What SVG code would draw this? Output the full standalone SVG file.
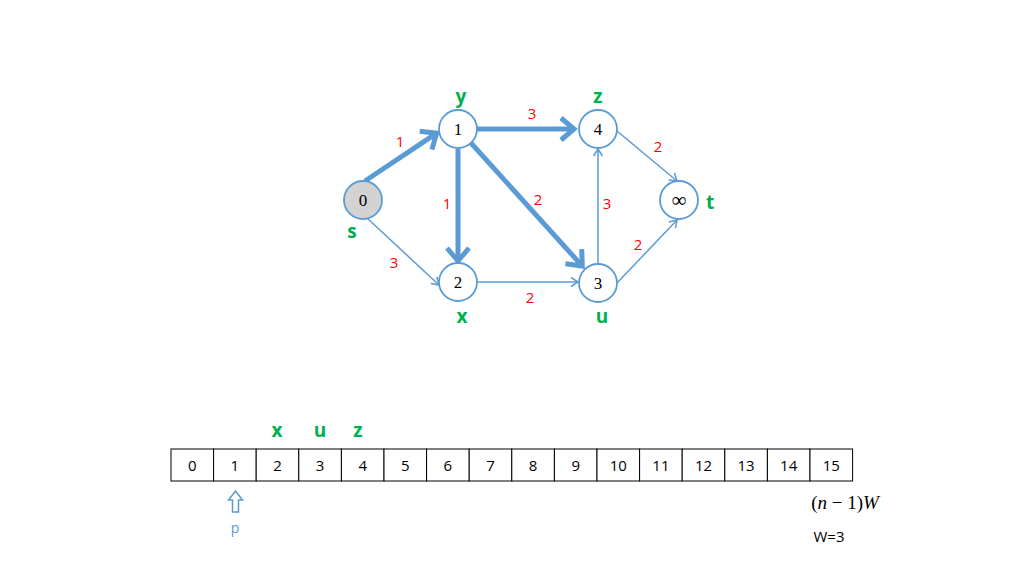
<svg xmlns="http://www.w3.org/2000/svg" width="1024" height="576" viewBox="0 0 1024 576">
<style>
.node{fill:#fff;stroke:#5B9BD5;stroke-width:1.8}
.src{fill:#D3D3D3}
.num{font-family:"Liberation Serif",serif;font-size:17px;fill:#000;text-anchor:middle;dominant-baseline:central}
.nm{font-family:"Open Sans","Liberation Sans",sans-serif;font-weight:bold;font-size:19px;fill:#00B050;text-anchor:middle}
.w{font-family:"Open Sans","Liberation Sans",sans-serif;font-size:15px;fill:#FF0000;text-anchor:middle}
.thick{stroke:#5B9BD5;stroke-width:5;fill:none;marker-end:url(#ahT)}
.thin{stroke:#5B9BD5;stroke-width:1.5;fill:none;marker-end:url(#ah)}
.cell{fill:#fff;stroke:#000;stroke-width:1}
.ct{font-family:"Open Sans","Liberation Sans",sans-serif;font-size:15px;fill:#000;text-anchor:middle}
</style>
<defs>
<marker id="ahT" viewBox="0 0 30 30" markerWidth="30" markerHeight="30" refX="11" refY="15" orient="auto" markerUnits="userSpaceOnUse">
<path d="M2,4 L15,15 L2,26" fill="none" stroke="#5B9BD5" stroke-width="5"/>
</marker>
<marker id="ah" viewBox="0 0 20 20" markerWidth="20" markerHeight="20" refX="10" refY="10" orient="auto" markerUnits="userSpaceOnUse">
<path d="M3,5.5 L10,10 L3,14.5" fill="none" stroke="#5B9BD5" stroke-width="1.5"/>
</marker>
</defs>
<rect width="1024" height="576" fill="#fff"/>
<g id="connectors">
<line class="thick" x1="365" y1="181" x2="433.3" y2="135.4"/>
<line class="thick" x1="477" y1="129" x2="570" y2="129"/>
<line class="thick" x1="458" y1="149" x2="458" y2="257"/>
<line class="thick" x1="471" y1="143" x2="579.6" y2="263.1"/>
<line class="thin" x1="367" y1="218" x2="439" y2="285"/>
<line class="thin" x1="477" y1="282" x2="578" y2="282"/>
<line class="thin" x1="598" y1="264" x2="598" y2="149"/>
<line class="thin" x1="617" y1="131" x2="677" y2="181"/>
<line class="thin" x1="617" y1="283" x2="677" y2="220"/>
<text class="w" x="400" y="147">1</text>
<text class="w" x="532" y="119">3</text>
<text class="w" x="658" y="152">2</text>
<text class="w" x="447" y="209">1</text>
<text class="w" x="538" y="205">2</text>
<text class="w" x="607" y="209">3</text>
<text class="w" x="638" y="250">2</text>
<text class="w" x="394" y="268">3</text>
<text class="w" x="530" y="303">2</text>
</g>
<g id="node-s">
<circle class="node src" cx="363" cy="200" r="19"/>
<text class="num" x="363" y="200">0</text>
<text class="nm" x="352" y="238">s</text>
</g>
<g id="node-y">
<circle class="node" cx="458" cy="129" r="19"/>
<text class="num" x="458" y="129">1</text>
<text class="nm" x="461" y="103">y</text>
</g>
<g id="node-z">
<circle class="node" cx="598" cy="129" r="19"/>
<text class="num" x="598" y="129">4</text>
<text class="nm" x="598" y="103">z</text>
</g>
<g id="node-t">
<circle class="node" cx="679" cy="200" r="19"/>
<text class="num" x="679" y="200" style="font-size:21px">∞</text>
<text class="nm" x="710" y="209">t</text>
</g>
<g id="node-x">
<circle class="node" cx="458" cy="282" r="19"/>
<text class="num" x="458" y="282">2</text>
<text class="nm" x="462" y="323">x</text>
</g>
<g id="node-u">
<circle class="node" cx="598" cy="283" r="19"/>
<text class="num" x="598" y="283">3</text>
<text class="nm" x="602" y="323">u</text>
</g>
<g id="buckets">
<rect class="cell" x="171" y="449" width="42.6" height="32"/>
<rect class="cell" x="213.6" y="449" width="42.6" height="32"/>
<rect class="cell" x="256.2" y="449" width="42.6" height="32"/>
<rect class="cell" x="298.8" y="449" width="42.6" height="32"/>
<rect class="cell" x="341.4" y="449" width="42.6" height="32"/>
<rect class="cell" x="384" y="449" width="42.6" height="32"/>
<rect class="cell" x="426.6" y="449" width="42.6" height="32"/>
<rect class="cell" x="469.2" y="449" width="42.6" height="32"/>
<rect class="cell" x="511.8" y="449" width="42.6" height="32"/>
<rect class="cell" x="554.4" y="449" width="42.6" height="32"/>
<rect class="cell" x="597" y="449" width="42.6" height="32"/>
<rect class="cell" x="639.6" y="449" width="42.6" height="32"/>
<rect class="cell" x="682.2" y="449" width="42.6" height="32"/>
<rect class="cell" x="724.8" y="449" width="42.6" height="32"/>
<rect class="cell" x="767.4" y="449" width="42.6" height="32"/>
<rect class="cell" x="810" y="449" width="42.6" height="32"/>
<text class="ct" x="192.3" y="471">0</text>
<text class="ct" x="234.9" y="471">1</text>
<text class="ct" x="277.5" y="471">2</text>
<text class="ct" x="320.1" y="471">3</text>
<text class="ct" x="362.7" y="471">4</text>
<text class="ct" x="405.3" y="471">5</text>
<text class="ct" x="447.9" y="471">6</text>
<text class="ct" x="490.5" y="471">7</text>
<text class="ct" x="533.1" y="471">8</text>
<text class="ct" x="575.7" y="471">9</text>
<text class="ct" x="618.3" y="471">10</text>
<text class="ct" x="660.9" y="471">11</text>
<text class="ct" x="703.5" y="471">12</text>
<text class="ct" x="746.1" y="471">13</text>
<text class="ct" x="788.7" y="471">14</text>
<text class="ct" x="831.3" y="471">15</text>
<text class="nm" x="277" y="437">x</text>
<text class="nm" x="320" y="437">u</text>
<text class="nm" x="358" y="437">z</text>
</g>
<g id="pointer">
<polygon points="235.5,491 242.5,500 238.5,500 238.5,512 232.5,512 232.5,500 228.5,500" fill="#fff" stroke="#5B9BD5" stroke-width="1.5" stroke-linejoin="miter"/>
<text x="235" y="533" font-family="Open Sans,Liberation Sans,sans-serif" font-size="14" fill="#5B9BD5" text-anchor="middle">p</text>
</g>
<text x="845" y="509" font-family="Liberation Serif,serif" font-size="19" fill="#000" text-anchor="middle">(<tspan font-style="italic">n</tspan> − 1)<tspan font-style="italic">W</tspan></text>
<text x="829" y="542" font-family="Open Sans,Liberation Sans,sans-serif" font-size="15" fill="#000" text-anchor="middle">W=3</text>
</svg>
